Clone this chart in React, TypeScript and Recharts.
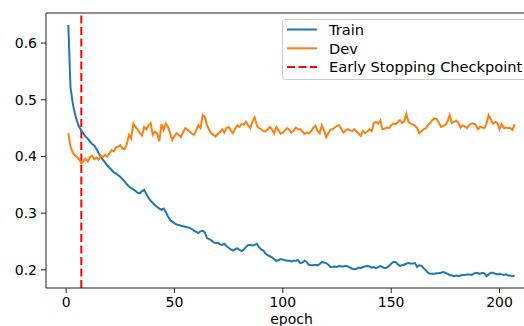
import { Legend, Line, LineChart, ReferenceLine, XAxis, YAxis } from "recharts";

// per-epoch loss (epochs 1..207)
const trainLoss = [
  0.632, 0.522, 0.495, 0.476, 0.462, 0.452, 0.446, 0.44, 0.435, 0.431,
  0.426, 0.422, 0.419, 0.413, 0.406, 0.399, 0.394, 0.389, 0.384, 0.38,
  0.376, 0.372, 0.37, 0.367, 0.364, 0.36, 0.356, 0.351, 0.347, 0.344,
  0.342, 0.339, 0.336, 0.335, 0.339, 0.341, 0.334, 0.327, 0.322, 0.318,
  0.314, 0.311, 0.308, 0.306, 0.308, 0.302, 0.294, 0.288, 0.285, 0.282,
  0.28, 0.279, 0.278, 0.277, 0.276, 0.275, 0.274, 0.272, 0.269, 0.267,
  0.265, 0.268, 0.269, 0.266, 0.256, 0.254, 0.252, 0.249, 0.247, 0.248,
  0.245, 0.244, 0.246, 0.242, 0.239, 0.236, 0.234, 0.236, 0.238, 0.235,
  0.233, 0.236, 0.24, 0.244, 0.244, 0.243, 0.244, 0.246, 0.24, 0.236,
  0.234, 0.229, 0.226, 0.224, 0.222, 0.219, 0.216, 0.217, 0.219, 0.218,
  0.217, 0.216, 0.216, 0.215, 0.216, 0.216, 0.217, 0.212, 0.213, 0.216,
  0.214, 0.209, 0.208, 0.208, 0.209, 0.208, 0.21, 0.214, 0.213, 0.212,
  0.209, 0.205, 0.205, 0.206, 0.205, 0.207, 0.206, 0.206, 0.207, 0.206,
  0.204, 0.202, 0.201, 0.202, 0.204, 0.203, 0.205, 0.206, 0.207, 0.206,
  0.204, 0.205, 0.203, 0.205, 0.207, 0.205, 0.203, 0.204, 0.207, 0.211,
  0.214, 0.214, 0.21, 0.207, 0.208, 0.209, 0.211, 0.212, 0.211, 0.211,
  0.212, 0.205, 0.208, 0.207, 0.203, 0.199, 0.195, 0.193, 0.193, 0.193,
  0.194, 0.194, 0.195, 0.196, 0.195, 0.193, 0.191, 0.19, 0.189, 0.19,
  0.189, 0.19, 0.191, 0.191, 0.192, 0.192, 0.191, 0.193, 0.195, 0.194,
  0.193, 0.195, 0.194, 0.189, 0.192, 0.195, 0.195, 0.193, 0.192, 0.193,
  0.192, 0.191, 0.192, 0.19, 0.19, 0.189, 0.19,
];

const devLoss = [
  0.441, 0.418, 0.407, 0.402, 0.399, 0.395, 0.388, 0.392, 0.396, 0.391,
  0.399, 0.401, 0.395, 0.398, 0.394, 0.402, 0.399, 0.403, 0.4, 0.406,
  0.411, 0.409, 0.416, 0.417, 0.42, 0.414, 0.413, 0.422, 0.438, 0.432,
  0.458, 0.452, 0.448, 0.441, 0.437, 0.452, 0.448, 0.455, 0.459, 0.438,
  0.444, 0.44, 0.427, 0.457, 0.447, 0.458, 0.452, 0.441, 0.429, 0.436,
  0.441, 0.438, 0.434, 0.443, 0.45, 0.447, 0.444, 0.44, 0.438, 0.446,
  0.455, 0.45, 0.473, 0.47, 0.455, 0.447, 0.441, 0.438, 0.435, 0.44,
  0.443, 0.448, 0.442, 0.45, 0.452, 0.446, 0.441, 0.449, 0.455, 0.452,
  0.457, 0.456, 0.461, 0.455, 0.45, 0.462, 0.469, 0.455, 0.45, 0.448,
  0.445, 0.444, 0.448, 0.452, 0.448, 0.441, 0.452, 0.446, 0.44, 0.442,
  0.446, 0.45, 0.447, 0.442, 0.445, 0.451, 0.448, 0.448, 0.444, 0.44,
  0.442, 0.441, 0.444, 0.45, 0.454, 0.445, 0.441, 0.455, 0.446, 0.434,
  0.441, 0.447, 0.448, 0.451, 0.454, 0.455, 0.449, 0.442, 0.446, 0.448,
  0.446, 0.445, 0.448, 0.444, 0.44, 0.436, 0.445, 0.441, 0.444, 0.448,
  0.445, 0.459, 0.461, 0.458, 0.463, 0.448, 0.449, 0.451, 0.45, 0.455,
  0.458, 0.457, 0.46, 0.464, 0.459, 0.462, 0.475, 0.461, 0.458, 0.456,
  0.454, 0.45, 0.441, 0.445, 0.448, 0.45, 0.455, 0.459, 0.464, 0.467,
  0.466, 0.46, 0.452, 0.454, 0.455, 0.462, 0.473, 0.459, 0.461, 0.463,
  0.46, 0.451, 0.455, 0.453, 0.45, 0.455, 0.458, 0.458, 0.456, 0.448,
  0.452, 0.451, 0.45, 0.458, 0.473, 0.465, 0.458, 0.461, 0.459, 0.448,
  0.457, 0.45, 0.451, 0.45, 0.45, 0.447, 0.457,
];

const xTicks = [0, 50, 100, 150, 200];
const yTicks = [0.2, 0.3, 0.4, 0.5, 0.6];
const checkpointEpoch = 7;

const legendItems = [
  { label: "Train", color: "#1f77b4", dashed: false },
  { label: "Dev", color: "#ff7f0e", dashed: false },
  { label: "Early Stopping Checkpoint", color: "red", dashed: true },
];

const font = "'DejaVu Sans', sans-serif";
const tickStyle = { fill: "#000", fontSize: 14, fontFamily: font };

const data = trainLoss.map((t, i) => ({ epoch: i + 1, train: t, dev: devLoss[i] }));

const LegendBox = () => (
  <svg width={250} height={62} style={{ display: "block" }}>
    <rect x={0.5} y={0.5} width={260} height={60} rx={3} fill="#fff" fillOpacity={0.8} stroke="#ccc" />
    {legendItems.map((item, i) => {
      const cy = 10.5 + i * 18.8;
      return (
        <g key={item.label}>
          <line
            x1={5}
            x2={35}
            y1={cy}
            y2={cy}
            stroke={item.color}
            strokeWidth={2}
            strokeDasharray={item.dashed ? "8 3.5" : undefined}
          />
          <text x={47} y={cy} dy="0.36em" fontSize={14.6} fontFamily={font} fill="#000">
            {item.label}
          </text>
        </g>
      );
    })}
  </svg>
);

export default function App() {
  return (
    <div style={{ position: "absolute", left: 0, top: 0, width: 524, height: 326, overflow: "hidden", background: "#fff" }}>
      <LineChart width={560} height={326} data={data} margin={{ top: 13, right: 23, left: 0, bottom: 0 }}>
        <XAxis
          dataKey="epoch"
          type="number"
          domain={[-9.3, 217.3]}
          allowDataOverflow
          ticks={xTicks}
          tickSize={5}
          tickMargin={4}
          height={38}
          stroke="#222"
          tick={tickStyle}
          label={{ value: "epoch", position: "insideBottom", offset: 2, fill: "#000", fontSize: 14, fontFamily: font }}
        />
        <YAxis
          type="number"
          domain={[0.168, 0.653]}
          allowDataOverflow
          ticks={yTicks}
          tickFormatter={(v: number) => v.toFixed(1)}
          tickSize={5}
          tickMargin={4}
          width={46}
          stroke="#222"
          tick={tickStyle}
        />
        <ReferenceLine y={0.653} stroke="#222" />
        <ReferenceLine x={checkpointEpoch} stroke="red" strokeWidth={2} strokeDasharray="8 3.5" />
        <Line type="linear" dataKey="train" stroke="#1f77b4" strokeWidth={2} dot={false} isAnimationActive={false} />
        <Line type="linear" dataKey="dev" stroke="#ff7f0e" strokeWidth={2} dot={false} isAnimationActive={false} />
        <Legend
          layout="vertical"
          align="center"
          verticalAlign="middle"
          content={() => <LegendBox />}
          wrapperStyle={{ left: 282, top: 19, width: 250, height: 62 }}
        />
      </LineChart>
    </div>
  );
}
